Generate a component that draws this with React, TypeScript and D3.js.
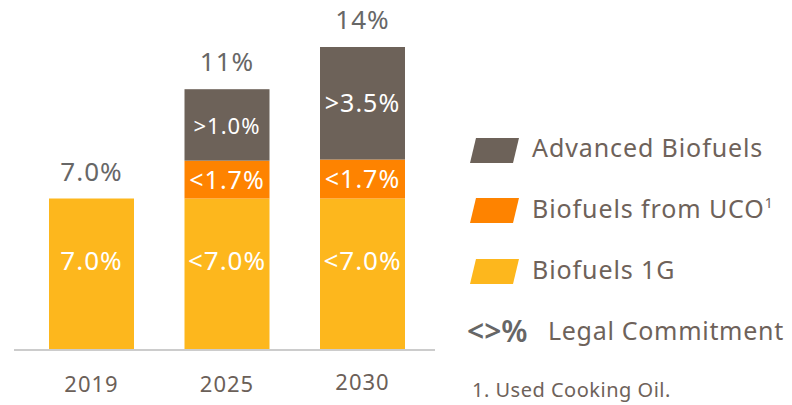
import React from "react";
import * as d3 from "d3";

const years = ["2019", "2025", "2030"];
// drawn segment heights (percentage points) as shown in the picture
const biofuels1G = [7.0, 7.0, 7.0];
const biofuelsUCO = [0, 1.75, 1.8];
const advanced = [0, 3.3, 5.2];
const labels1G = ["7.0%", "<7.0%", "<7.0%"];
const labelsUCO = ["", "<1.7%", "<1.7%"];
const labelsAdv = ["", ">1.0%", ">3.5%"];
const totals = ["7.0%", "11%", "14%"];

const seriesNames = ["Advanced Biofuels", "Biofuels from UCO", "Biofuels 1G"];
const colors = { adv: "#6d6259", uco: "#fe8300", g1: "#fdb71d" };

const FONT = "'Noto Sans', 'Open Sans', sans-serif";

export default function App() {
  const x = d3.scaleBand<string>().domain(years).range([49, 405]).paddingInner(0.3727).paddingOuter(0);
  const y = d3.scaleLinear().domain([0, 14]).range([350, 47]);
  const bw = x.bandwidth();

  const stacks = years.map((yr, i) => {
    const a = biofuels1G[i];
    const b = a + biofuelsUCO[i];
    const c = b + advanced[i];
    return { yr, a, b, c, i };
  });

  const swatch = (yTop: number, color: string) => {
    const h = 25;
    const x0 = 470;
    const w = 43;
    const sk = 6;
    return (
      <path
        d={`M${x0 + sk},${yTop} L${x0 + sk + w},${yTop} L${x0 + w},${yTop + h} L${x0},${yTop + h} Z`}
        fill={color}
      />
    );
  };

  return (
    <svg width={792} height={405} style={{ position: "absolute", left: 0, top: 0, background: "#fff" }} fontFamily={FONT}>
      {stacks.map((s) => (
        <g key={s.yr}>
          <rect x={x(s.yr)} y={y(s.a)} width={bw} height={y(0) - y(s.a)} fill={colors.g1} />
          {s.b > s.a && <rect x={x(s.yr)} y={y(s.b)} width={bw} height={y(s.a) - y(s.b)} fill={colors.uco} />}
          {s.c > s.b && <rect x={x(s.yr)} y={y(s.c)} width={bw} height={y(s.b) - y(s.c)} fill={colors.adv} />}
          <text x={x(s.yr)! + bw / 2} y={(y(0) + y(s.a)) / 2 - 4.5} textAnchor="middle" fill="#fff" fontSize={26} letterSpacing={1}>
            {labels1G[s.i]}
          </text>
          {labelsUCO[s.i] && (
            <text x={x(s.yr)! + bw / 2} y={(y(s.a) + y(s.b)) / 2 + 9} textAnchor="middle" fill="#fff" fontSize={25} letterSpacing={1}>
              {labelsUCO[s.i]}
            </text>
          )}
          {labelsAdv[s.i] && (
            <text x={x(s.yr)! + bw / 2} y={(y(s.b) + y(s.c)) / 2 + 9} textAnchor="middle" fill="#fff" fontSize={s.i === 1 ? 22 : 25} letterSpacing={1}>
              {labelsAdv[s.i]}
            </text>
          )}
          <text x={x(s.yr)! + bw / 2} y={y(s.c) - 18} textAnchor="middle" fill="#676767" fontSize={26} letterSpacing={1}>
            {totals[s.i]}
          </text>
          <text x={x(s.yr)! + bw / 2} y={s.i === 2 ? 390 : 392} textAnchor="middle" fill="#6b6058" fontSize={22} letterSpacing={1}>
            {s.yr}
          </text>
        </g>
      ))}
      <line x1={14} x2={435} y1={350} y2={350} stroke="#cccccc" strokeWidth={2} />

      {swatch(138, colors.adv)}
      <text x={532} y={157} fill="#6e625a" fontSize={25} letterSpacing={0.9}>{seriesNames[0]}</text>
      {swatch(198, colors.uco)}
      <text x={532} y={218} fill="#6e625a" fontSize={25} letterSpacing={0.9}>
        {seriesNames[1]}
        <tspan fontSize={14} dy={-10}>1</tspan>
      </text>
      {swatch(259, colors.g1)}
      <text x={532} y={279} fill="#6e625a" fontSize={25} letterSpacing={0.9}>{seriesNames[2]}</text>
      <text x={467} y={342} fill="#666" fontSize={30} fontWeight={600}>{"<>%"}</text>
      <text x={548} y={340} fill="#6e625a" fontSize={25} letterSpacing={0.7}>Legal Commitment</text>
      <text x={472} y={397} fill="#6e625a" fontSize={20} letterSpacing={0.5}>1. Used Cooking Oil.</text>
    </svg>
  );
}
